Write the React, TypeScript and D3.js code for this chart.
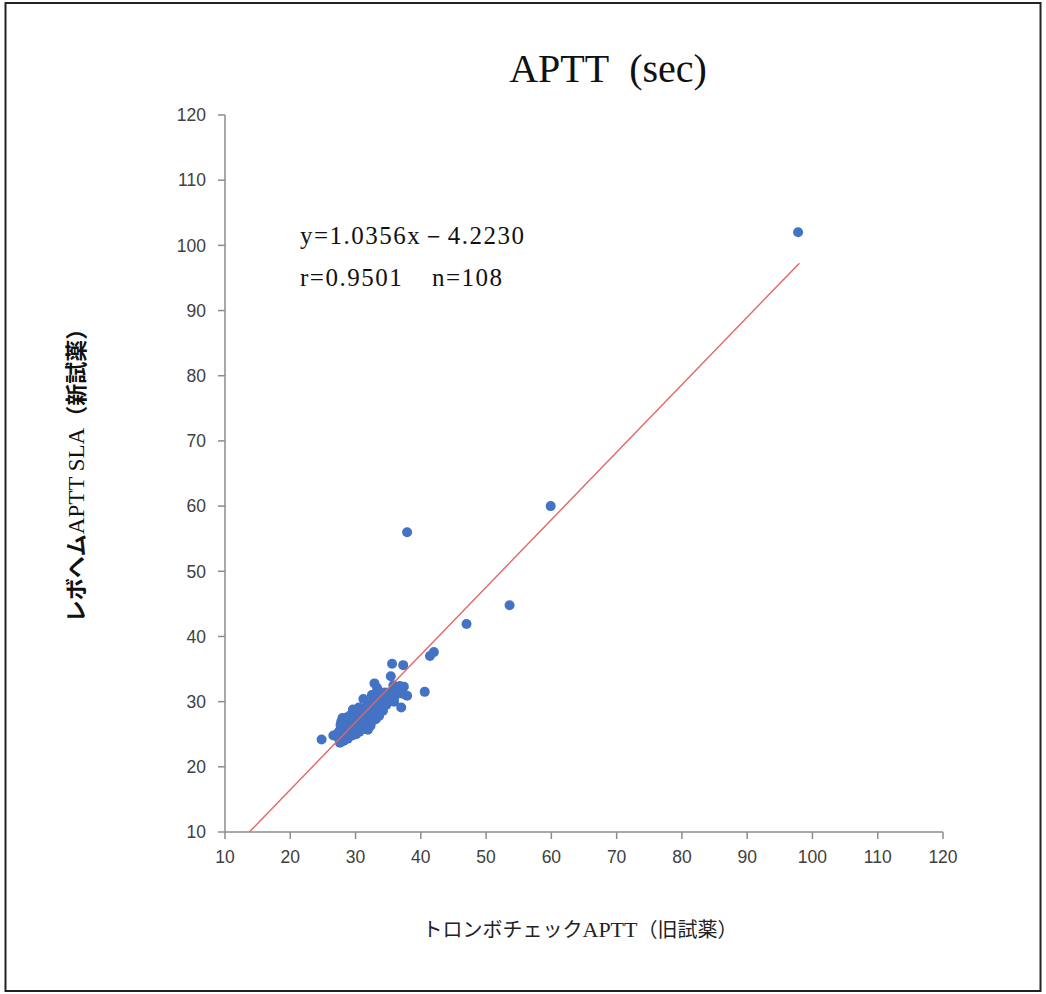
import React from "react";
import * as d3 from "d3";

// measured pairs (old reagent x, new reagent y), seconds
const oldReagent = [
  97.8, 59.9, 37.9, 53.6, 47.0, 42.0, 41.4, 37.3, 35.6, 40.6, 37.9, 37.0, 24.8, 26.6, 27.6,
  35.4, 32.9, 33.3, 36.8, 37.4, 35.8, 37.2, 36.0, 34.9, 34.3, 33.8, 32.5, 31.2, 32.0, 33.0,
  34.0, 35.2, 33.6, 30.5, 31.5, 29.6, 30.2, 31.0, 32.2, 33.4, 32.8, 32.0, 31.4, 30.8, 30.0,
  29.3, 28.7, 28.0, 27.8, 28.4, 29.0, 29.7, 30.4, 31.1, 31.8, 32.5, 33.1, 30.0, 29.3, 28.6,
  28.0, 27.6, 28.3, 29.0, 29.7, 30.3, 30.9, 31.5, 27.9, 28.5, 29.2, 29.9, 30.6, 27.4, 28.8,
  29.5, 27.3, 30.1, 31.3, 32.3, 31.9, 28.2, 27.9, 29.8, 33.6, 34.2, 33.9, 34.6, 35.1, 32.7,
  31.9, 30.9, 29.9, 31.6, 32.9, 33.5, 34.7, 30.6, 29.4, 28.9, 27.7, 28.3, 31.0, 32.4, 36.5,
  35.9, 34.5, 33.0,
];
const newReagent = [
  102.0, 60.0, 56.0, 44.8, 41.9, 37.6, 37.0, 35.6, 35.8, 31.5, 30.9, 29.1, 24.2, 24.8, 23.7,
  33.9, 32.8, 32.1, 32.4, 32.3, 32.5, 31.2, 30.8, 30.2, 29.7, 30.4, 31.0, 30.4, 29.6, 29.0,
  29.2, 31.4, 31.6, 29.1, 29.0, 28.8, 28.5, 28.4, 28.6, 28.3, 27.7, 27.5, 27.9, 27.6, 27.9,
  28.0, 27.6, 27.5, 26.9, 26.8, 27.1, 27.2, 27.0, 26.9, 26.6, 27.0, 27.3, 26.4, 26.5, 26.2,
  26.0, 25.6, 25.4, 25.8, 25.7, 25.9, 26.2, 26.1, 24.9, 24.6, 25.1, 25.2, 25.4, 24.4, 24.3,
  24.8, 25.2, 25.0, 25.8, 26.3, 25.7, 24.0, 23.9, 25.5, 27.8, 28.6, 29.9, 30.6, 30.1, 30.0,
  29.2, 28.8, 28.4, 28.3, 28.9, 29.5, 29.5, 26.5, 26.9, 26.6, 26.4, 27.2, 27.3, 28.0, 31.8,
  30.0, 31.4, 30.6,
];

const xTicks = [10, 20, 30, 40, 50, 60, 70, 80, 90, 100, 110, 120];
const yTicks = [10, 20, 30, 40, 50, 60, 70, 80, 90, 100, 110, 120];

const slope = 1.0356;
const intercept = -4.223;
const fitRange = [13.73, 98];

const title = "APTT\u2002(sec)";
const equationText = "y=1.0356x－4.2230";
const rText = "r=0.9501";
const nText = "n=108";

const W = 1046;
const H = 994;
const left = 225;
const right = 943;
const top = 115;
const bottom = 832;

const AXIS = "#8c8c8c";
const TICK_TEXT = "#404040";
const DOT = "#4472C4";
const FIT = "#E06666";
const SERIF = "'Liberation Serif', 'DejaVu Serif', serif";
const SANS = "'Liberation Sans', Arial, sans-serif";
const JP = "'Noto Sans CJK JP', sans-serif";

export default function App() {
  const x = d3.scaleLinear().domain([10, 120]).range([left, right]);
  const y = d3.scaleLinear().domain([10, 120]).range([bottom, top]);
  const points = oldReagent.map((v, i) => [v, newReagent[i]] as [number, number]);
  const fitLine = d3
    .line<number>()
    .x((d) => x(d))
    .y((d) => y(slope * d + intercept));

  return (
    <svg
      width={W}
      height={H}
      style={{ position: "absolute", left: 0, top: 0, background: "#fff" }}
    >
      <rect x={5.5} y={3} width={1035} height={988} fill="#fff" stroke="#222" strokeWidth={2} />

      <text x={608} y={82} textAnchor="middle" fontFamily={SERIF} fontSize={40} fill="#111">
        {title}
      </text>

      {/* axes */}
      <line x1={left} x2={left} y1={top} y2={bottom} stroke={AXIS} strokeWidth={1.5} />
      <line x1={left} x2={right} y1={bottom} y2={bottom} stroke={AXIS} strokeWidth={1.5} />
      {yTicks.map((t) => (
        <g key={"y" + t}>
          <line x1={left - 7} x2={left} y1={y(t)} y2={y(t)} stroke={AXIS} strokeWidth={1.5} />
          <text
            x={left - 19}
            y={y(t)}
            dy="0.36em"
            textAnchor="end"
            fontFamily={SANS}
            fontSize={17.5}
            fill={TICK_TEXT}
          >
            {t}
          </text>
        </g>
      ))}
      {xTicks.map((t) => (
        <g key={"x" + t}>
          <line x1={x(t)} x2={x(t)} y1={bottom} y2={bottom + 7} stroke={AXIS} strokeWidth={1.5} />
          <text
            x={x(t)}
            y={bottom + 31}
            textAnchor="middle"
            fontFamily={SANS}
            fontSize={17.5}
            fill={TICK_TEXT}
          >
            {t}
          </text>
        </g>
      ))}

      {/* points */}
      {points.map(([px, py], i) => (
        <circle key={i} cx={x(px)} cy={y(py)} r={5} fill={DOT} />
      ))}

      {/* regression */}
      <path d={fitLine(fitRange) || ""} fill="none" stroke={FIT} strokeWidth={1.4} />

      <text x={300} y={244} fontFamily={SERIF} fontSize={25} letterSpacing={1.5} fill="#111">
        {equationText}
      </text>
      <text x={300} y={286} fontFamily={SERIF} fontSize={25} letterSpacing={1.5} fill="#111">
        {rText}
      </text>
      <text x={432} y={286} fontFamily={SERIF} fontSize={25} letterSpacing={1.5} fill="#111">
        {nText}
      </text>

      {/* axis titles */}
      <text x={580} y={937} textAnchor="middle" fontFamily={JP} fontSize={20} fill="#222">
        トロンボチェック<tspan fontFamily={SERIF} fontSize={22}>APTT</tspan>（旧試薬）
      </text>
      <text
        transform="translate(84,470) rotate(-90)"
        textAnchor="middle"
        fontFamily={JP}
        fontSize={22}
        fontWeight="bold"
        fill="#111"
      >
        レボヘム<tspan fontFamily={SERIF} fontSize={23} fontWeight="normal">APTT SLA</tspan>（新試薬）
      </text>
    </svg>
  );
}
